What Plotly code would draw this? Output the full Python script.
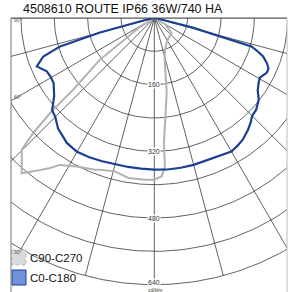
import numpy as np
import plotly.graph_objects as go

title = "4508610 ROUTE IP66 36W/740 HA"

# C0-C180 plane: gamma (deg, negative = C180 side) and intensity (cd/klm)
c0_gamma = [-90, -78, -75, -73.2, -70.9, -67.6, -63.6, -60, -57, -52, -48, -45, -41, -35,
            -30, -25, -20, -15, -10, -5, 0, 5, 10, 15, 20, 25, 30, 33, 36, 40, 43, 45,
            48, 52, 55, 58, 60.5, 62.5, 64, 66, 68, 70.5, 72, 73.7, 74.5, 76, 78, 90]
c0_int = [0, 20, 135, 236, 282, 305, 288, 286, 288, 305, 330, 336, 352, 366,
          371, 369, 366, 364, 363, 363, 364, 365, 365, 365, 364, 366, 370, 366, 361, 350, 340, 332,
          329, 318, 303, 295, 291, 296, 300, 300, 292, 277, 262, 243, 160, 95, 20, 0]

# C90-C270 plane
c90_gamma = [-90, -58, -52.5, -48.5, -47.8, -46.5, -45.2, -43.1, -40.5, -38.3, -35, -32.7,
             -27.6, -21.4, -19.7, -14.4, -9.2, -3.3, 0, 2.7, 4.1, 4.4, 6.3, 9.4, 14, 18.6,
             30, 49, 60, 90]
c90_int = [0, 40, 165, 260, 330, 400, 448, 466, 490, 469, 440, 419,
           402, 391, 387, 380, 389, 389, 388, 380, 357, 301, 245, 182, 103, 80,
           62, 55, 30, 0]

grid_radii = [80, 160, 240, 320, 400, 480, 560, 640]
label_radii = [160, 320, 480, 640]
spoke_angles = [-90, -75, -60, -45, -30, -15, 0, 15, 30, 45, 60, 75, 90]
angle_labels = ["90°", "60°", "30°"]
legend_names = ["C90-C270", "C0-C180"]


def to_xy(g, r):
    g = np.radians(np.asarray(g, dtype=float))
    r = np.asarray(r, dtype=float)
    return r * np.sin(g), -r * np.cos(g)


# pixel geometry (288x292 canvas)
W, H = 288, 292
cx_px, cy_px = 154.3, 18.0
k = 2.4  # cd per pixel
L, T, R = 11, 18, 1
PW, PH = W - L - R, H - T
x0 = (L - cx_px) * k
x1 = (W - R - cx_px) * k
y1 = 0.0
y0 = -(H - T) * k


def px(xp, yp):
    return (xp - cx_px) * k, -(yp - cy_px) * k


def paper(xp, yp):
    return (xp - L) / PW, 1 - (yp - T) / PH


fig = go.Figure()
grid_col = "#3a3a3a"
th = np.linspace(-90, 90, 181)
for rr in grid_radii:
    gx, gy = to_xy(th, np.full_like(th, rr))
    fig.add_trace(go.Scatter(x=gx, y=gy, mode="lines", line=dict(color=grid_col, width=0.8),
                             hoverinfo="skip", showlegend=False))
for a in spoke_angles:
    sx, sy = to_xy([a, a], [0, grid_radii[-1]])
    fig.add_trace(go.Scatter(x=sx, y=sy, mode="lines", line=dict(color=grid_col, width=0.8),
                             hoverinfo="skip", showlegend=False))

gx, gy = to_xy(c90_gamma, c90_int)
fig.add_trace(go.Scatter(x=gx, y=gy, mode="lines", name="C90-C270",
                         line=dict(color="#b2b2b2", width=2), showlegend=False))
bx, by = to_xy(c0_gamma, c0_int)
fig.add_trace(go.Scatter(x=bx, y=by, mode="lines", name="C0-C180",
                         line=dict(color="#1b3f93", width=2.2), showlegend=False))

ann = []
for rr in label_radii:
    ann.append(dict(x=0, y=-rr, text=str(rr), showarrow=False, bgcolor="white",
                    font=dict(size=7, color="#333", family="Arial, Liberation Sans"),
                    borderpad=0, yshift=2 if rr == label_radii[-1] else 0))
ax_, ay_ = paper(155, 289.5)
ann.append(dict(x=ax_, y=ay_, xref="paper", yref="paper", text="cd/klm", showarrow=False,
                yanchor="middle",
                font=dict(size=5, color="#333", family="Arial, Liberation Sans")))
for lab, ypx in zip(angle_labels, [20, 97, 252]):
    lx, ly = paper(11.5, ypx)
    ann.append(dict(x=lx, y=ly, xref="paper", yref="paper", text=lab, showarrow=False,
                    xanchor="left", yanchor="middle",
                    font=dict(size=5, color="#555", family="Arial, Liberation Sans")))

# title
tx, ty = paper(21, 9)
ann.append(dict(x=tx, y=ty, xref="paper", yref="paper", text=title, showarrow=False,
                xanchor="left", yanchor="middle",
                font=dict(size=12.5, color="#111", family="Arial, Liberation Sans")))

shapes = []
# legend boxes
for i, (name, fill, line, dash) in enumerate(zip(
        legend_names, ["#d9d9d9", "#6e93d6"], ["#b8b8b8", "#1b3f93"], ["dot", "solid"])):
    top = 250 + i * 20
    a1, b1 = px(12, top)
    a2, b2 = px(26, top + 15)
    shapes.append(dict(type="rect", x0=a1, y0=b1, x1=a2, y1=b2, fillcolor=fill,
                       line=dict(color=line, width=1, dash=dash), layer="above"))
    lx, ly = paper(28, top + 8)
    ann.append(dict(x=lx, y=ly, xref="paper", yref="paper", text=name, showarrow=False,
                    xanchor="left", yanchor="middle",
                    font=dict(size=11.5, color="#111", family="Arial, Liberation Sans")))

# frame
shapes.append(dict(type="line", xref="paper", yref="paper", x0=0, x1=0, y0=0, y1=1,
                   line=dict(color="#777", width=1)))
shapes.append(dict(type="line", xref="paper", yref="paper", x0=0, x1=1, y0=1, y1=1,
                   line=dict(color="#555", width=1)))
shapes.append(dict(type="line", xref="paper", yref="paper", x0=1, x1=1, y0=0, y1=1,
                   line=dict(color="#bbb", width=1)))

fig.update_layout(
    width=W, height=H, margin=dict(l=L, r=R, t=T, b=0),
    paper_bgcolor="white", plot_bgcolor="white",
    xaxis=dict(range=[x0, x1], visible=False, fixedrange=True),
    yaxis=dict(range=[y0, y1], visible=False, fixedrange=True),
    annotations=ann, shapes=shapes, showlegend=False,
)
fig.write_html("out.html", config={"displayModeBar": False},
               post_script="document.body.style.margin='0';document.body.style.overflow='hidden';")
